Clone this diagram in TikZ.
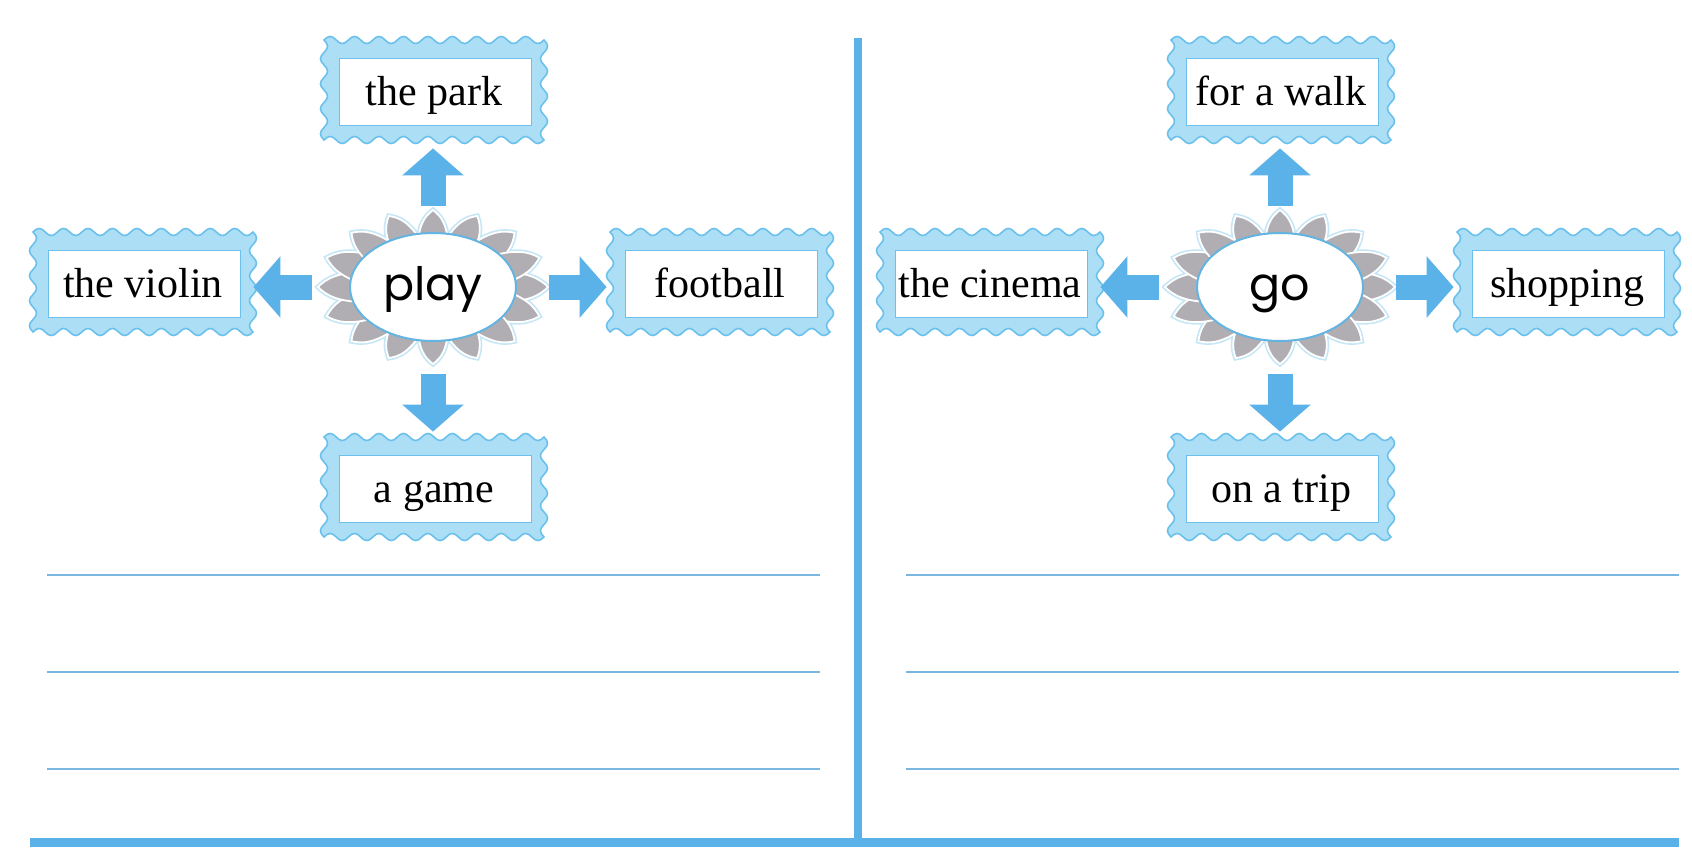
\documentclass[tikz,border=0pt]{standalone}
\usepackage{fontspec}
\setmainfont{Liberation Serif}
\newfontfamily\kidfont{Poppins}
\usetikzlibrary{arrows.meta,shapes.geometric}

\definecolor{arrowblue}{RGB}{90,178,232}
\definecolor{framefill}{RGB}{172,223,245}
\definecolor{framedraw}{RGB}{108,193,236}
\definecolor{rulecol}{RGB}{122,182,222}
\definecolor{petalgrey}{RGB}{176,174,178}
\definecolor{petalglow}{RGB}{196,230,246}
\definecolor{ellblue}{RGB}{100,180,226}

\tikzset{
  boxtext/.style={font=\fontsize{21}{25}\selectfont, minimum width=110pt, minimum height=50pt,
    inner sep=0pt, text height=15pt, text depth=0pt},
  wave/.style={fill=framefill, draw=framedraw, line width=0.8pt},
  innerbox/.style={fill=white, draw=framedraw, line width=0.5pt},
  barrow/.style={draw=arrowblue, line width=12.5pt, -{Triangle[width=30pt,length=13.5pt]}},
  flowerell/.style={ellipse, fill=white, draw=ellblue, line width=1pt, minimum width=83pt,
    minimum height=54pt, inner sep=0pt, font=\kidfont\fontsize{23}{27}\selectfont,
    text height=13pt, text depth=0pt},
  petalglowst/.style={fill=petalglow, draw=petalglow, line width=2.5pt},
  petalst/.style={fill=petalgrey, draw=white, line width=0.9pt},
  rule/.style={draw=rulecol, line width=0.9pt},
  divider/.style={draw=arrowblue, line width=4pt},
  baseline/.style={draw=arrowblue, line width=4.5pt}
}

\newcommand\wavyframe[2]{%
  \path[wave] (#1-110,#2-50)
    \foreach \ii in {1,...,9} { .. controls +(4.3,-4.7) and +(-4.3,-4.7) .. ++(12.222,0)
                                .. controls +(4.3,4.7) and +(-4.3,4.7) .. ++(12.222,0) }
    \foreach \ii in {1,...,4} { .. controls +(4.7,4.4) and +(4.7,-4.4) .. ++(0,12.5)
                                .. controls +(-4.7,4.4) and +(-4.7,-4.4) .. ++(0,12.5) }
    \foreach \ii in {1,...,9} { .. controls +(-4.3,4.7) and +(4.3,4.7) .. ++(-12.222,0)
                                .. controls +(-4.3,-4.7) and +(4.3,-4.7) .. ++(-12.222,0) }
    \foreach \ii in {1,...,4} { .. controls +(-4.7,-4.4) and +(-4.7,4.4) .. ++(0,-12.5)
                                .. controls +(4.7,-4.4) and +(4.7,4.4) .. ++(0,-12.5) }
    -- cycle;
}

\newcommand\wbox[4]{%
  \wavyframe{#2}{#3}
  \path[innerbox] (#2-95,#3-32) rectangle (#2+97,#3+35);
  \node[boxtext] (#1) at (#2,#3) {#4};
}

\newcommand\petals[3]{%
  \foreach \kk in {0,...,15}{
    \pgfmathsetmacro\ptT{\kk*22.5}
    \pgfmathsetmacro\ptX{#1+83*cos(\ptT)}
    \pgfmathsetmacro\ptY{#2+54*sin(\ptT)}
    \pgfmathsetmacro\ptL{sqrt((30*cos(\ptT))^2+(21*sin(\ptT))^2)}
    \pgfmathsetmacro\ptA{atan2(-21*sin(\ptT),30*cos(\ptT))}
    \begin{scope}[shift={(\ptX,\ptY)},rotate=\ptA]
      \path[#3] (-22,-15) .. controls (0.4*\ptL,-16) and (0.8*\ptL,-8) .. (\ptL+2,0)
        .. controls (0.8*\ptL,8) and (0.4*\ptL,16) .. (-22,15) -- cycle;
    \end{scope}
  }%
}

\begin{document}
\begin{tikzpicture}[x=0.5pt,y=-0.5pt]
\useasboundingbox (0,0) rectangle (1692,863);
\fill[white] (0,0) rectangle (1692,863);

% divider lines
\draw[divider] (858,38) -- (858,842);
\draw[baseline] (30,842) -- (1679,842);

% writing rules
\foreach \yy in {575,672,769}{
  \draw[rule] (47,\yy) -- (820,\yy);
  \draw[rule] (906,\yy) -- (1679,\yy);
}

% left panel
\wbox{park}{434}{90}{the park}
\wbox{violin}{143}{282}{the violin}
\wbox{football}{720}{282}{football}
\wbox{game}{434}{487}{a game}

\petals{433}{287}{petalglowst}
\petals{433}{287}{petalst}
\node[flowerell] (play) at (433,287) {play};

\draw[barrow, shorten <=13pt, shorten >=4pt] (play.north) -- (play.north |- park.south);
\draw[barrow, shorten <=16pt, shorten >=2.5pt] (play.south) -- (play.south |- game.north);
\draw[barrow, shorten <=16pt, shorten >=1.5pt] (play.east) -- (play.east -| football.west);
\draw[barrow, shorten <=18.5pt, shorten >=0pt] (play.west) -- (play.west -| violin.east);

% right panel
\wbox{walk}{1281}{90}{for a walk}
\wbox{cinema}{990}{282}{the cinema}
\wbox{shopping}{1567}{282}{shopping}
\wbox{trip}{1281}{487}{on a trip}

\petals{1280}{287}{petalglowst}
\petals{1280}{287}{petalst}
\node[flowerell] (go) at (1280,287) {go};

\draw[barrow, shorten <=13pt, shorten >=4pt] (go.north) -- (go.north |- walk.south);
\draw[barrow, shorten <=16pt, shorten >=2.5pt] (go.south) -- (go.south |- trip.north);
\draw[barrow, shorten <=16pt, shorten >=1.5pt] (go.east) -- (go.east -| shopping.west);
\draw[barrow, shorten <=18.5pt, shorten >=0pt] (go.west) -- (go.west -| cinema.east);
\end{tikzpicture}
\end{document}
